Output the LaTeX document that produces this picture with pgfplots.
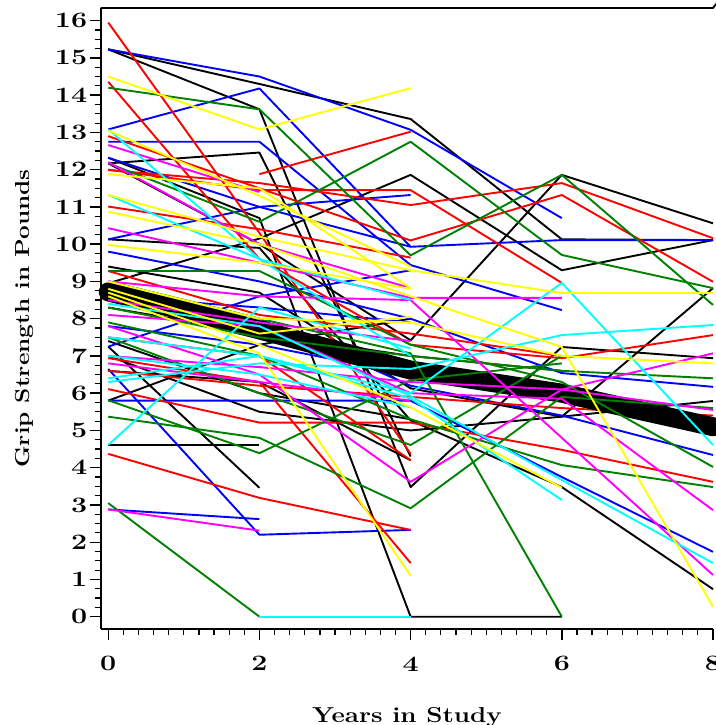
\documentclass[border=0pt]{standalone}
\usepackage{fontspec}
\setmainfont{Latin Modern Roman}[FakeStretch=1.2]
\newfontfamily\tickfont{Latin Modern Roman}[FakeStretch=1.3]
\usepackage{pgfplots}
\pgfplotsset{compat=1.18}
\definecolor{sasgreen}{RGB}{0,128,0}
\definecolor{sascyan}{RGB}{0,255,255}
\definecolor{sasmagenta}{RGB}{255,0,255}
\definecolor{sasyellow}{RGB}{255,255,0}
\definecolor{sasblue}{RGB}{0,0,255}
\definecolor{sasred}{RGB}{255,0,0}

\begin{document}
\begin{tikzpicture}
\path[use as bounding box] (-100.7pt,-96pt) rectangle (614.3pt,629pt);
\begin{axis}[
    scale only axis,
    width=612.3pt, height=621pt,
    xmin=-0.1, xmax=8, ymin=-0.33, ymax=16.34,
    axis x line*=bottom, axis y line*=left,
    axis line style={line width=1.8pt},
    tick align=outside,
    xtick={0,2,...,8}, ytick={0,1,...,16},
    minor x tick num=9, minor y tick num=3,
    major tick length=11pt, minor tick length=5.5pt,
    major tick style={line width=1.4pt, black},
    minor tick style={line width=1.2pt, black},
    tick label style={font=\tickfont\bfseries\fontsize{22}{22}\selectfont},
    xticklabel style={yshift=-13pt},
    yticklabel style={xshift=1pt},
    /pgf/number format/assume math mode=true,
    xlabel={Years in Study}, ylabel={Grip Strength in Pounds},
    xlabel style={font=\bfseries\fontsize{21.6}{21.6}\selectfont,
        at={(axis description cs:0.5,-0.1498)}, anchor=base},
    ylabel style={font=\bfseries\fontsize{20.3}{20.3}\selectfont,
        at={(axis description cs:-0.1155,0.5)}, anchor=base, rotate=0},
    clip=false,
    no markers,
    every axis plot/.append style={line width=1.9pt, line join=round},
    k/.style={black}, b/.style={sasblue}, r/.style={sasred},
    g/.style={sasgreen}, m/.style={sasmagenta}, c/.style={sascyan}, y/.style={sasyellow},
]
% black
\addplot[k] coordinates {(0,15.23)(2,14.30)(4,13.36)(6,10.13)(8,10.11)};
\addplot[k] coordinates {(0,15.23)(2,13.62)(4,3.48)(6,7.24)(8,6.94)};
\addplot[k] coordinates {(0,12.32)(2,10.7)(4,0)(6,0)};
\addplot[k] coordinates {(0,12.17)(2,10.0)(4,7.42)(6,11.86)(8,10.56)};
\addplot[k] coordinates {(0,8.95)(2,10.15)(4,11.86)(6,9.30)(8,10.11)};
\addplot[k] coordinates {(0,12.17)(2,12.46)(4,4.3)};
\addplot[k] coordinates {(0,10.13)(2,9.9)(4,5.27)(6,3.48)(8,0.74)};
\addplot[k] coordinates {(0,7.25)(2,3.46)};
\addplot[k] coordinates {(0,4.61)(2,4.61)};
\addplot[k] coordinates {(0,9.4)(2,8.7)(4,6.13)(6,5.37)(8,5.79)};
\addplot[k] coordinates {(0,6.6)(2,6.3)(4,4.2)};
\addplot[k] coordinates {(0,7.0)(2,5.5)(4,5.0)(6,5.37)(8,8.82)};
\addplot[k] coordinates {(0,5.8)(2,7.3)(4,8.0)};
\addplot[k] coordinates {(0,7.4)(2,6.0)(4,5.3)};
\addplot[k] coordinates {(0,8.3)(2,7.6)(4,7.0)(6,6.6)};
% blue
\addplot[b] coordinates {(0,15.23)(2,14.50)(4,13.07)(6,10.70)};
\addplot[b] coordinates {(0,13.08)(2,14.18)(4,9.93)(6,10.11)(8,10.11)};
\addplot[b] coordinates {(0,12.75)(2,12.75)(4,9.44)(6,8.23)};
\addplot[b] coordinates {(0,12.32)(2,11.0)(4,11.32)};
\addplot[b] coordinates {(0,10.13)(2,11.0)(4,9.93)};
\addplot[b] coordinates {(0,7.25)(2,8.6)(4,9.3)};
\addplot[b] coordinates {(0,6.65)(2,2.2)(4,2.33)};
\addplot[b] coordinates {(0,2.88)(2,2.62)};
\addplot[b] coordinates {(0,5.80)(2,5.80)(4,5.80)(6,3.75)(8,1.74)};
\addplot[b] coordinates {(0,8.6)(2,8.3)(4,7.9)};
\addplot[b] coordinates {(0,9.0)(2,8.0)(4,6.2)(6,5.4)(8,4.34)};
\addplot[b] coordinates {(0,9.8)(2,9.0)(4,8.0)(6,6.54)(8,6.17)};
\addplot[b] coordinates {(0,7.8)(2,7.3)(4,6.5)};
% red
\addplot[r] coordinates {(0,15.95)(2,10.3)(4,4.37)};
\addplot[r] coordinates {(0,14.36)(2,9.6)(4,7.3)(6,6.94)(8,7.56)};
\addplot[r] coordinates {(2,11.88)(4,13.02)};
\addplot[r] coordinates {(0,11.99)(2,11.64)(4,11.05)(6,11.64)(8,10.16)};
\addplot[r] coordinates {(0,12.9)(2,11.5)(4,10.1)(6,11.32)(8,8.99)};
\addplot[r] coordinates {(0,11.01)(2,10.4)(4,9.64)};
\addplot[r] coordinates {(0,6.94)(2,6.3)(4,1.44)};
\addplot[r] coordinates {(0,4.37)(2,3.19)(4,2.33)};
\addplot[r] coordinates {(0,6.11)(2,5.21)(4,5.21)(6,4.48)(8,3.62)};
\addplot[r] coordinates {(0,7.5)(2,7.0)(4,4.2)};
\addplot[r] coordinates {(0,9.28)(2,8.1)(4,7.6)(6,7.0)};
\addplot[r] coordinates {(0,6.6)(2,6.2)(4,5.9)(6,5.6)(8,5.4)};
\addplot[r] coordinates {(0,12.0)(2,11.45)(4,11.45)(6,8.96)};
% mean
\addplot[black, line width=19pt, line cap=round] coordinates {(0,8.72)(2,7.7)(4,6.62)(6,6.0)(8,5.1)};
% green
\addplot[g] coordinates {(0,12.17)(2,10.6)(4,12.75)(6,9.71)(8,8.82)};
\addplot[g] coordinates {(0,14.20)(2,13.62)(4,9.7)(6,11.86)(8,8.37)};
\addplot[g] coordinates {(0,3.05)(2,0)};
\addplot[g] coordinates {(0,5.37)(2,4.8)(4,2.91)(6,5.9)(8,5.6)};
\addplot[g] coordinates {(0,5.81)(2,4.39)(4,6.35)(6,6.80)};
\addplot[g] coordinates {(0,9.0)(2,8.0)(4,7.07)(6,0)};
\addplot[g] coordinates {(0,7.5)(2,6.0)(4,4.61)(6,7.0)};
\addplot[g] coordinates {(0,9.28)(2,9.28)(4,7.3)(6,6.3)(8,4.02)};
\addplot[g] coordinates {(0,7.9)(2,7.0)(4,5.3)(6,4.07)(8,3.48)};
\addplot[g] coordinates {(0,8.3)(2,7.5)(4,7.0)(6,6.6)(8,6.4)};
% magenta
\addplot[m] coordinates {(0,12.66)(2,11.4)};
\addplot[m] coordinates {(0,12.2)(2,10.0)(4,8.82)};
\addplot[m] coordinates {(0,10.43)(2,9.5)(4,8.56)(6,8.56)};
\addplot[m] coordinates {(0,2.88)(2,2.31)};
\addplot[m] coordinates {(0,7.8)(2,6.5)(4,3.62)(6,6.1)(8,7.07)};
\addplot[m] coordinates {(0,8.1)(2,7.8)(4,6.0)(6,5.85)(8,2.86)};
\addplot[m] coordinates {(0,9.0)(2,8.6)(4,8.5)(6,4.8)(8,1.12)};
\addplot[m] coordinates {(0,7.0)(2,6.7)(4,6.3)(6,6.1)(8,5.55)};
\addplot[m] coordinates {(0,8.5)(2,7.9)(4,7.4)};
\addplot[m] coordinates {(0,6.8)(2,6.3)(4,5.8)};
% cyan
\addplot[c] coordinates {(0,13.08)(2,9.6)(4,7.0)};
\addplot[c] coordinates {(0,11.32)(2,9.6)(4,8.5)};
\addplot[c] coordinates {(0,6.4)(2,7.0)(4,6.0)(6,8.96)(8,4.61)};
\addplot[c] coordinates {(0,6.3)(2,6.8)(4,6.65)(6,7.56)(8,7.83)};
\addplot[c] coordinates {(2,0)(4,0)};
\addplot[c] coordinates {(0,4.61)(2,8.3)(4,7.2)};
\addplot[c] coordinates {(0,8.4)(2,7.8)(4,5.92)(6,3.67)(8,1.44)};
\addplot[c] coordinates {(0,7.5)(2,7.0)(4,5.86)(6,3.13)};
\addplot[c] coordinates {(0,7.0)(2,6.5)(4,5.62)};
% yellow
\addplot[y] coordinates {(0,14.50)(2,13.08)(4,14.19)};
\addplot[y] coordinates {(0,11.32)(2,10.2)(4,9.3)(6,8.69)(8,8.69)};
\addplot[y] coordinates {(0,10.87)(2,10.0)(4,8.6)(6,7.24)(8,0.27)};
\addplot[y] coordinates {(0,11.88)(2,11.5)(4,8.82)};
\addplot[y] coordinates {(0,9.0)(2,8.0)(4,7.9)(6,7.0)(8,6.80)};
\addplot[y] coordinates {(0,8.6)(2,7.07)(4,1.1)};
\addplot[y] coordinates {(0,8.7)(2,7.3)(4,5.62)(6,3.46)};
\addplot[y] coordinates {(0,8.8)(2,7.6)(4,8.05)};
\addplot[y] coordinates {(0,9.98)(2,9.5)(4,8.8)};
\addplot[y] coordinates {(0,13.05)(2,11.3)(4,9.4)};
\draw[line width=1.8pt] (rel axis cs:0,1) -- (rel axis cs:1,1) -- ++(2pt,0);
\end{axis}
\end{tikzpicture}
\end{document}
